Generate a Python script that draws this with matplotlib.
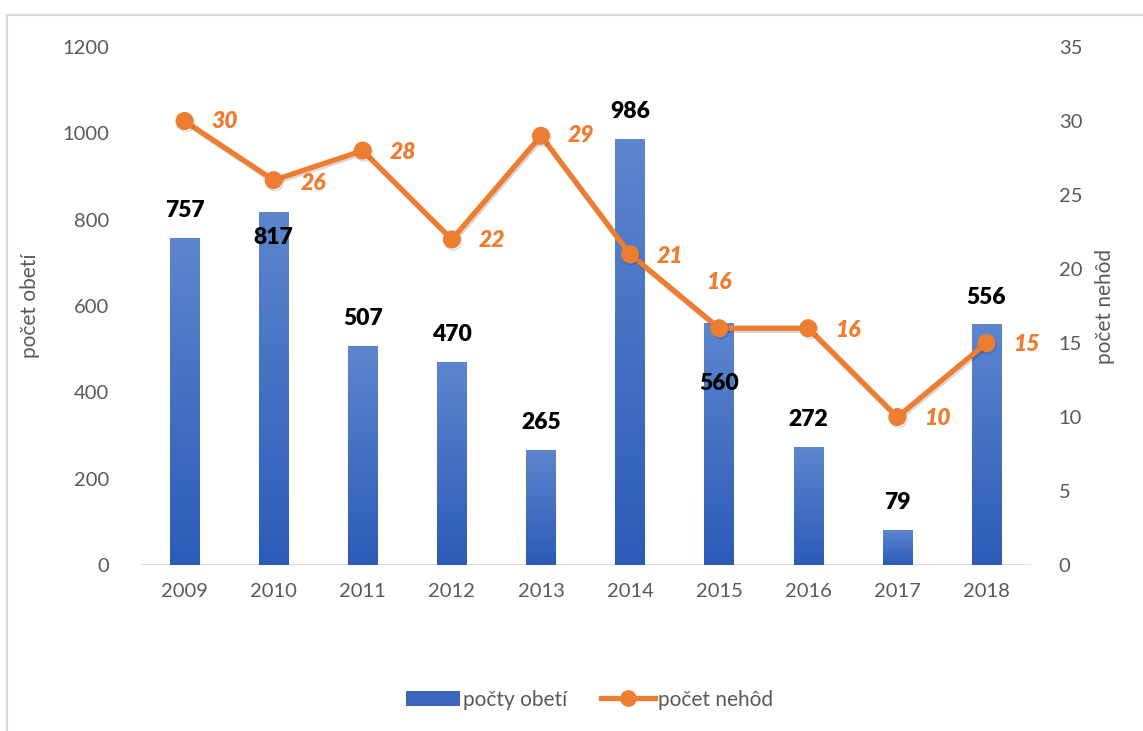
import numpy as np
import matplotlib.pyplot as plt
from matplotlib.colors import LinearSegmentedColormap
from matplotlib.patches import Rectangle
from matplotlib.lines import Line2D
import matplotlib.patheffects as pe

years = ['2009', '2010', '2011', '2012', '2013', '2014', '2015', '2016', '2017', '2018']
obete = [757, 817, 507, 470, 265, 986, 560, 272, 79, 556]
nehody = [30, 26, 28, 22, 29, 21, 16, 16, 10, 15]

plt.rcParams['font.family'] = ['Lato', 'DejaVu Sans']

fig = plt.figure(figsize=(11.43, 7.31), dpi=100)
ax = fig.add_axes([0.1225, 0.227, 0.7795, 0.7087])
ax2 = ax.twinx()

x = np.arange(len(years))
bars = ax.bar(x, obete, width=0.33, color='none', zorder=2)

# gradient fill for bars
cmap = LinearSegmentedColormap.from_list('bl', ['#2C5BB8', '#5D86CE'])
grad = np.linspace(0, 1, 256).reshape(-1, 1)
for b in bars:
    x0, w, h = b.get_x(), b.get_width(), b.get_height()
    ax.imshow(grad, extent=[x0, x0 + w, 0, h], origin='lower', aspect='auto',
              cmap=cmap, zorder=2)

ax.set_xlim(-0.5, len(years) - 0.5)
ax.set_ylim(0, 1200)
ax.set_yticks(range(0, 1201, 200))
ax2.set_ylim(0, 35)
ax2.set_yticks(range(0, 36, 5))
ax.set_xticks(x)
ax.set_xticklabels(years)

for a in (ax, ax2):
    for s in a.spines.values():
        s.set_visible(False)
    a.tick_params(length=0, labelsize=14.5, labelcolor='#595959')
ax.tick_params(axis='y', pad=22)
ax.tick_params(axis='x', pad=13)
ax2.tick_params(axis='y', pad=20)
ax.axhline(0, color='#D9D9D9', lw=1.2, zorder=1)

ax.set_ylabel('počet obetí', fontsize=15, color='#595959', labelpad=16)
ax2.set_ylabel('počet nehôd', fontsize=15, color='#595959', labelpad=9)

# bar value labels (pixel offsets from bar top)
bar_off = [28, -25, 28, 28, 28, 28, -60, 28, 28, 28]
for xi, v, off in zip(x, obete, bar_off):
    ax.annotate(str(v), (xi, v), xytext=(0, off), textcoords='offset pixels',
                ha='center', va='center', fontsize=16.5, fontweight='heavy', color='black')

shadow = [pe.SimpleLineShadow(offset=(1, -1.5), alpha=0.15, shadow_color='#000000'), pe.Normal()]
ax2.plot(x, nehody, color='#ED7D31', lw=3.8, marker='o', markersize=12,
         zorder=3, path_effects=shadow)

line_off = [(40, 0), (40, -3), (40, -2), (40, -1), (40, 0), (40, -2), (0, 46), (40, -2), (40, -1), (40, -1)]
for xi, v, (dx, dy) in zip(x, nehody, line_off):
    ax2.annotate(str(v), (xi, v), xytext=(dx, dy), textcoords='offset pixels',
                 ha='center', va='center', fontsize=16.5, fontweight='heavy',
                 fontstyle='italic', color='#ED7D31')

# legend
h1 = Rectangle((0, 0), 1, 1, facecolor='#3A66BE')
h2 = Line2D([], [], color='#ED7D31', lw=3.8, marker='o', markersize=11)
fig.legend([h1, h2], ['počty obetí', 'počet nehôd'], loc='center',
           bbox_to_anchor=(0.516, 0.043), ncol=2, frameon=False, fontsize=15,
           handlelength=2.6, handletextpad=0.15, columnspacing=1.6,
           labelcolor='#595959')

# chart frame
fig.add_artist(Rectangle((7 / 1143, -0.1), 1.2, 1 - 15 / 731 + 0.1,
                         transform=fig.transFigure, fill=False,
                         edgecolor='#D9D9D9', lw=1.5))

fig.savefig('out.png', dpi=100)
